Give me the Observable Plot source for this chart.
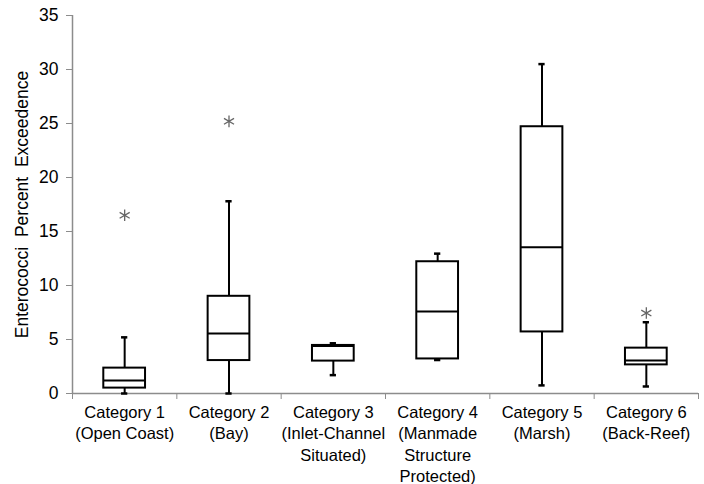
<!DOCTYPE html>
<html>
<head>
<meta charset="utf-8">
<script src="https://cdn.jsdelivr.net/npm/d3@7"></script>
<script src="https://cdn.jsdelivr.net/npm/@observablehq/plot@0.6"></script>
<style>
  html, body { margin: 0; padding: 0; background: #fff; }
  #chart { width: 704px; height: 484px; }
</style>
</head>
<body>
<div id="chart"></div>
<script>
const categories = [
  "Category 1\n(Open Coast)",
  "Category 2\n(Bay)",
  "Category 3\n(Inlet-Channel\nSituated)",
  "Category 4\n(Manmade\nStructure\nProtected)",
  "Category 5\n(Marsh)",
  "Category 6\n(Back-Reef)"
];
const whiskerLow  = [0.0, 0.0, 1.7, 3.1, 0.75, 0.65];
const q1          = [0.5, 3.05, 3.0, 3.2, 5.7, 2.65];
const medians     = [1.2, 5.55, 4.4, 7.6, 13.55, 3.05];
const q3          = [2.35, 9.0, 4.45, 12.2, 24.7, 4.2];
const whiskerHigh = [5.2, 17.8, 4.65, 12.95, 30.5, 6.6];
const outlierCategory = [1, 2, 6];
const outlierValue    = [16.5, 25.2, 7.45];
const yTicks = [0, 5, 10, 15, 20, 25, 30, 35];
const yLabel = "Enterococci\u00a0\u00a0Percent\u00a0\u00a0Exceedence";

const boxes = categories.map((c, i) => ({
  pos: i + 1, lo: whiskerLow[i], q1: q1[i], med: medians[i], q3: q3[i], hi: whiskerHigh[i]
}));
const outliers = outlierCategory.map((c, i) => ({pos: c, v: outlierValue[i]}));
const boundaries = d3.range(0.5, categories.length + 1, 1);
const halfBox = 0.2, halfCap = 0.03;

const chart = Plot.plot({
  width: 704,
  height: 484,
  marginLeft: 72,
  marginRight: 6,
  marginTop: 15,
  marginBottom: 91,
  style: {fontFamily: "'Liberation Sans', Arial, sans-serif", fontSize: "16px", color: "#000", background: "#fff"},
  x: {type: "linear", domain: [0.5, categories.length + 0.5]},
  y: {domain: [0, 35]},
  marks: [
    Plot.ruleY([0], {stroke: "#8c8c8c", strokeWidth: 1.5}),
    Plot.ruleX([0.5], {stroke: "#8c8c8c", strokeWidth: 1.5}),
    Plot.axisY({ticks: yTicks, tickSize: 6, tickPadding: 8, stroke: "#8c8c8c", fontSize: 17.5, label: null, tickFormat: d => d}),
    Plot.axisX({ticks: boundaries, tickSize: 6, stroke: "#8c8c8c", tickFormat: () => "", label: null}),
    Plot.axisX({ticks: categories.map((c, i) => i + 1), tickSize: 0, tickPadding: 9, tickFormat: d => categories[d - 1], lineHeight: 1.3, fontSize: 16.5, label: null}),
    Plot.text([yLabel], {frameAnchor: "left", textAnchor: "middle", rotate: -90, dx: -50, fontSize: 17.5, fill: "#000"}),
    Plot.ruleX(boxes, {x: "pos", y1: "lo", y2: "hi", stroke: "#000", strokeWidth: 2}),
    Plot.ruleY(boxes, {y: "lo", x1: d => d.pos - halfCap, x2: d => d.pos + halfCap, stroke: "#000", strokeWidth: 2.5}),
    Plot.ruleY(boxes, {y: "hi", x1: d => d.pos - halfCap, x2: d => d.pos + halfCap, stroke: "#000", strokeWidth: 2.5}),
    Plot.rect(boxes, {x1: d => d.pos - halfBox, x2: d => d.pos + halfBox, y1: "q1", y2: "q3", fill: "#fff", stroke: "#000", strokeWidth: 2}),
    Plot.ruleY(boxes, {y: "med", x1: d => d.pos - halfBox, x2: d => d.pos + halfBox, stroke: "#000", strokeWidth: 2}),
    Plot.dot(outliers, {x: "pos", y: "v", symbol: "asterisk", r: 5.5, stroke: "#666", strokeWidth: 1.3})
  ]
});
document.getElementById("chart").appendChild(chart);
</script>
</body>
</html>
